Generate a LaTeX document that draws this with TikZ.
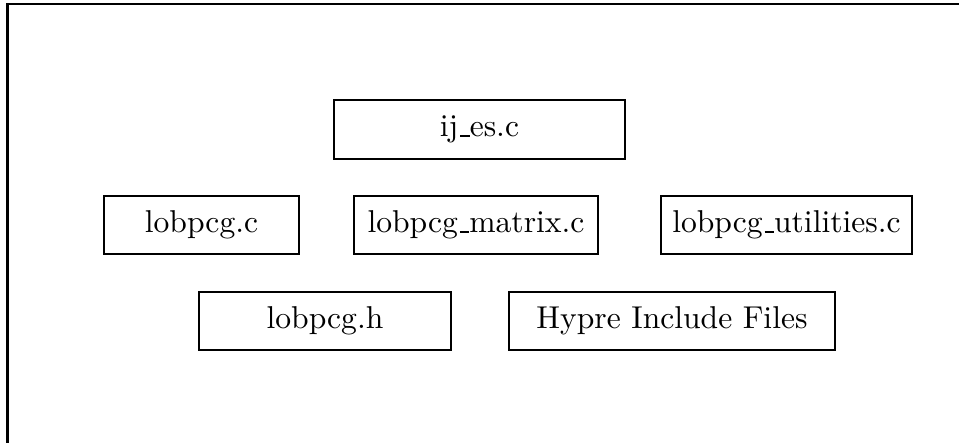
\documentclass[tikz,border=0pt]{standalone}
\usetikzlibrary{positioning}
% short low rule used as underscore in the file names
\newcommand{\lowbar}{\leavevmode\kern.06em\vbox{\hrule width.3em}}
\begin{document}
\begin{tikzpicture}[x=0.3165pt,y=-0.3165pt,
  filebox/.style={draw,line width=0.7pt,inner sep=0pt,font=\normalsize},
  frameline/.style={line width=0.7pt}]
% page extent
\useasboundingbox (0,0) rectangle (959,443);
% outer frame (top and left edges)
\coordinate (fbl) at (7.5,443);
\coordinate (ftl) at (7.5,4.2);
\coordinate (ftr) at (959,4.2);
\draw[frameline] (fbl) -- (ftl) -- (ftr);
% source files
\node[filebox,minimum width=291*0.3165pt,minimum height=59*0.3165pt] (ij) at (479.5,129.5) {ij\lowbar es.c};
\node[filebox,minimum width=195*0.3165pt,minimum height=58*0.3165pt] (lc) at (201.5,225) {lobpcg.c};
\node[filebox,minimum width=244*0.3165pt,minimum height=58*0.3165pt] (lm) at (476,225) {lobpcg\lowbar matrix.c};
\node[filebox,minimum width=251*0.3165pt,minimum height=58*0.3165pt] (lu) at (786.5,225) {lobpcg\lowbar utilities.c};
% headers
\node[filebox,minimum width=252*0.3165pt,minimum height=58*0.3165pt] (lh) at (325,321) {lobpcg.h};
\node[filebox,minimum width=326*0.3165pt,minimum height=58*0.3165pt] (hi) at (672,321) {Hypre Include Files};
\end{tikzpicture}
\end{document}
